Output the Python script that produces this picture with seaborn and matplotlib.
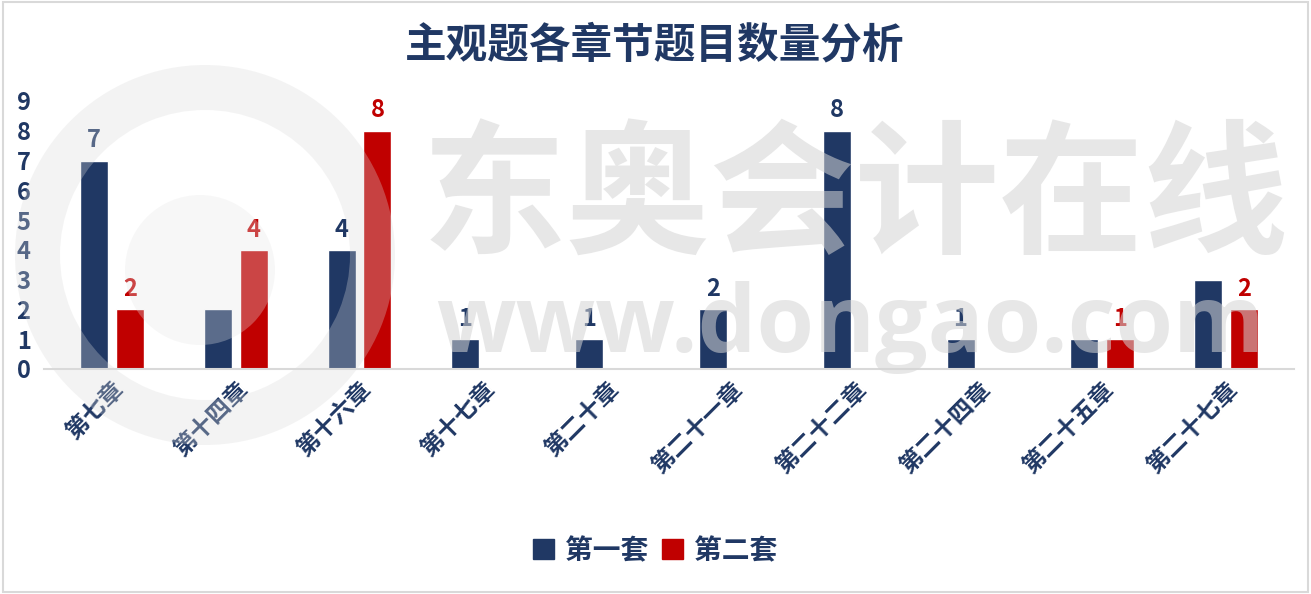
import matplotlib
matplotlib.use("Agg")
import matplotlib.pyplot as plt
import matplotlib.patches as mpatches
import seaborn as sns
import pandas as pd

chapters = ["第七章", "第十四章", "第十六章", "第十七章", "第二十章",
            "第二十一章", "第二十二章", "第二十四章", "第二十五章", "第二十七章"]
series_names = ["第一套", "第二套"]
set1 = [7, 2, 4, 1, 1, 2, 8, 1, 1, 3]
set2 = [2, 4, 8, 0, 0, 0, 0, 0, 1, 2]
labels1 = ["7", "", "4", "1", "1", "2", "8", "1", "", ""]
labels2 = ["2", "4", "8", "", "", "", "", "", "1", "2"]
y_ticks = [0, 1, 2, 3, 4, 5, 6, 7, 8, 9]
title = "主观题各章节题目数量分析"

NAVY = "#203864"
RED = "#C00000"

sns.set_theme(style="white")
plt.rcParams["font.family"] = ["Noto Sans CJK SC", "DejaVu Sans"]

df = pd.DataFrame({
    "chapter": chapters * 2,
    "series": [series_names[0]] * len(chapters) + [series_names[1]] * len(chapters),
    "value": set1 + set2,
})

fig = plt.figure(figsize=(13.11, 5.94), dpi=100)
W, H = 1311, 594
ax = fig.add_axes([50 / W, (H - 369) / H, (1288 - 50) / W, (369 - 101) / H])

sns.barplot(data=df, x="chapter", y="value", hue="series", order=chapters,
            hue_order=series_names, palette=[NAVY, RED], width=0.58, gap=0.22,
            ax=ax, legend=False, saturation=1)

for cont, labs, col in zip(ax.containers, [labels1, labels2], [NAVY, RED]):
    ax.bar_label(cont, labels=labs, padding=6, color=col, fontsize=17,
                 fontweight="bold")

ax.set_ylim(0, 9)
ax.set_yticks(y_ticks)
ax.set_yticklabels([str(v) for v in y_ticks], fontsize=17, fontweight="bold",
                   color=NAVY)
ax.tick_params(axis="y", length=0, pad=14)
ax.tick_params(axis="x", length=0, pad=6)
ax.set_xticks(range(len(chapters)))
ax.set_xticklabels(chapters, rotation=45, ha="right", rotation_mode="anchor",
                   fontsize=17, fontweight="bold", color=NAVY)
ax.set_xlabel("")
ax.set_ylabel("")
for s in ["top", "right", "left"]:
    ax.spines[s].set_visible(False)
ax.spines["bottom"].set_color("#d9d9d9")
ax.spines["bottom"].set_linewidth(1.5)
ax.spines["bottom"].set_bounds(-0.55, 9.55)
ax.set_xlim(-0.5, 9.5)

fig.text(655 / W, 1 - 45 / H, title, ha="center", va="center", fontsize=30,
         fontweight="bold", color=NAVY)

handles = [mpatches.Patch(color=NAVY, label=series_names[0]),
           mpatches.Patch(color=RED, label=series_names[1])]
fig.legend(handles=handles, loc="center", bbox_to_anchor=(655 / W, 1 - 551 / H),
           ncol=2, frameon=False, handlelength=0.75, handleheight=0.75,
           handletextpad=0.4, columnspacing=0.5, prop={"size": 20, "weight": "bold"},
           labelcolor=NAVY)

# watermark
tr = fig.dpi_scale_trans
ring = mpatches.Wedge((205 / 100, (H - 255) / 100), 1.9, 0, 360, width=0.45,
                      transform=tr, facecolor="#d9d9d9", alpha=0.3,
                      edgecolor="none", zorder=10)
fig.patches.append(ring)
disc = mpatches.Circle((200 / 100, (H - 270) / 100), 0.75, transform=tr,
                       facecolor="#e6e6e6", alpha=0.3, edgecolor="none", zorder=10)
fig.patches.append(disc)
fig.text(855 / W, 1 - 200 / H, "东奥会计在线", ha="center", va="center",
         fontsize=104, fontweight="bold", color="#d4d4d4", alpha=0.55, zorder=20)
fig.text(850 / W, 1 - 328 / H, "www.dongao.com", ha="center", va="center",
         fontsize=67, fontweight="bold", color="#d4d4d4", alpha=0.55, zorder=20,
         family=["Open Sans", "DejaVu Sans"])

# frame
fig.patches.append(mpatches.Rectangle((0.002, 0.003), 0.996, 0.994,
                                      transform=fig.transFigure, fill=False,
                                      edgecolor="#d9d9d9", linewidth=1.5))

fig.savefig("out.png", dpi=100)
